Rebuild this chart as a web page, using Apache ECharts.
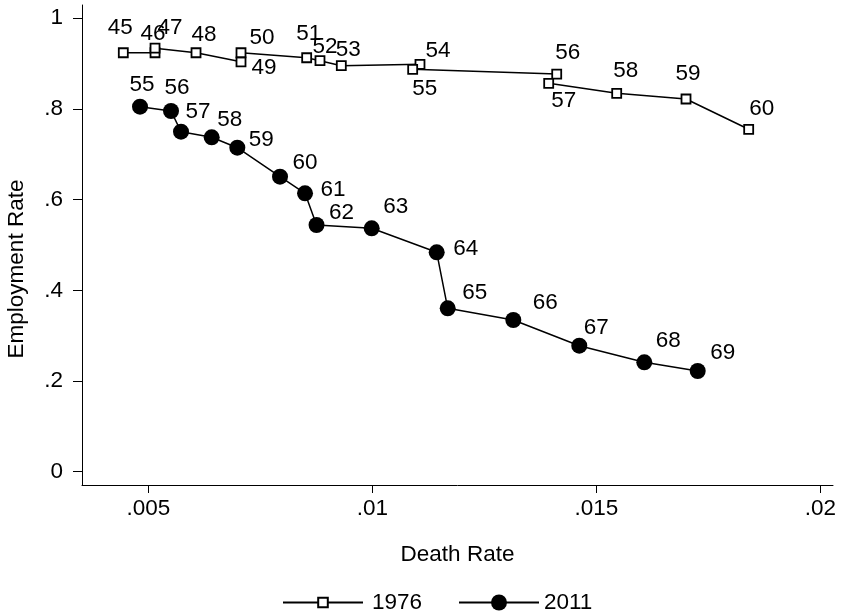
<!DOCTYPE html>
<html>
<head>
<meta charset="utf-8">
<script src="https://cdn.jsdelivr.net/npm/echarts@6/dist/echarts.min.js"></script>
<style>
html,body{margin:0;padding:0;background:#fff;}
#chart{width:841px;height:616px;}
</style>
</head>
<body>
<div id="chart"></div>
<script>
// ---- data ----
const ages1976 = [45,46,47,48,49,50,51,52,53,54,55,56,57,58,59,60];
const death1976 = [0.004442,0.005150,0.005150,0.006065,0.007069,0.007069,0.008535,0.008832,0.009308,0.011064,0.010901,0.014116,0.013937,0.015455,0.017002,0.018401];
const emp1976 = [0.924,0.924,0.934,0.924,0.904,0.924,0.913,0.9065,0.8955,0.8985,0.8875,0.877,0.8566,0.8346,0.822,0.7552];

const ages2011 = [55,56,57,58,59,60,61,62,63,64,65,66,67,68,69];
const death2011 = [0.004815,0.005507,0.00573,0.006415,0.006987,0.00794,0.008498,0.008755,0.009986,0.011437,0.011683,0.013147,0.01462,0.016071,0.017263];
const emp2011 = [0.805,0.7955,0.75,0.7375,0.7146,0.6506,0.614,0.5441,0.5368,0.4839,0.3604,0.3346,0.2779,0.2413,0.2221];

const xTicks = [0.005,0.01,0.015,0.02];
const xTickLabels = ['.005','.01','.015','.02'];
const yTicks = [0,0.2,0.4,0.6,0.8,1];
const yTickLabels = ['0','.2','.4','.6','.8','1'];

// ---- layout (label placement offsets, px) ----
const lblOff1976 = [[-3,-25],[-2,-19],[15,-20],[8,-18],[23,6],[21,-15],[2,-24],[5,-14],[7,-16],[18,-14],[12,20],[11,-21],[15,17],[9,-22],[2,-25],[13,-20]];
const lblOff2011 = [[2,-22],[6,-23],[17,-20],[18,-18],[24,-8],[25,-14],[28,-4],[25,-12],[24,-22],[29,-4],[27,-16],[32,-17],[17,-18],[24,-22],[25,-18]];

const FONT = "'Liberation Sans', Arial, Helvetica, sans-serif";
const FS = 22.5;

function build(ages, xs, ys, offs) {
  return ages.map((a, i) => ({
    name: String(a),
    value: [xs[i], ys[i]],
    label: { offset: offs[i] }
  }));
}
function fmt(ticks, labels) {
  return function (v) {
    for (let i = 0; i < ticks.length; i++) {
      if (Math.abs(v - ticks[i]) < 1e-9) return labels[i];
    }
    return '';
  };
}

const chart = echarts.init(document.getElementById('chart'), null, {renderer: 'canvas'});
const labelCommon = {
  show: true, position: 'inside', formatter: '{b}',
  color: '#000', fontSize: FS, fontFamily: FONT, align: 'center', verticalAlign: 'middle'
};
chart.setOption({
  animation: false,
  backgroundColor: '#fff',
  textStyle: { fontFamily: FONT, color: '#000' },
  grid: { left: 82, right: 8, top: 5, bottom: 131, containLabel: false, outerBoundsMode: 'none' },
  xAxis: {
    type: 'value', min: 0.00352, max: 0.020283,
    name: 'Death Rate', nameLocation: 'middle', nameGap: 58,
    nameTextStyle: { fontSize: FS, fontFamily: FONT, color: '#000' },
    axisLine: { show: true, onZero: false, lineStyle: { color: '#000', width: 1 } },
    axisTick: { show: true, length: 8, customValues: xTicks, lineStyle: { color: '#000', width: 1 } },
    axisLabel: { customValues: xTicks, formatter: fmt(xTicks, xTickLabels), margin: 12, fontSize: FS, fontFamily: FONT, color: '#000' },
    splitLine: { show: false }
  },
  yAxis: {
    type: 'value', min: -0.0293, max: 1.0293,
    name: 'Employment Rate', nameLocation: 'middle', nameGap: 54,
    nameTextStyle: { fontSize: FS, fontFamily: FONT, color: '#000', padding: [0, 48, 0, 0] },
    axisLine: { show: true, onZero: false, lineStyle: { color: '#000', width: 1 } },
    axisTick: { show: true, length: 9, customValues: yTicks, lineStyle: { color: '#000', width: 1 } },
    axisLabel: { customValues: yTicks, formatter: fmt(yTicks, yTickLabels), margin: 19, fontSize: FS, fontFamily: FONT, color: '#000' },
    splitLine: { show: false }
  },
  legend: [
    {
      data: ['1976'], left: 282, top: 591, padding: 0, itemWidth: 80, itemHeight: 12, itemGap: 0,
      textStyle: { fontSize: FS, fontFamily: FONT, color: '#000', padding: [0,0,0,4] }
    },
    {
      data: ['2011'], left: 458, top: 591, padding: 0, itemWidth: 80, itemHeight: 20, itemGap: 0,
      textStyle: { fontSize: FS, fontFamily: FONT, color: '#000' }
    }
  ],
  series: [
    {
      name: '1976', type: 'line',
      data: build(ages1976, death1976, emp1976, lblOff1976),
      symbol: 'rect', symbolSize: 9,
      itemStyle: { color: '#fff', borderColor: '#000', borderWidth: 1.8 },
      lineStyle: { color: '#000', width: 1.5 },
      label: labelCommon,
      emphasis: { disabled: true }
    },
    {
      name: '2011', type: 'line',
      data: build(ages2011, death2011, emp2011, lblOff2011),
      symbol: 'circle', symbolSize: 16,
      itemStyle: { color: '#000', borderColor: '#000', borderWidth: 0 },
      lineStyle: { color: '#000', width: 1.5 },
      label: labelCommon,
      emphasis: { disabled: true }
    }
  ]
});
</script>
</body>
</html>
